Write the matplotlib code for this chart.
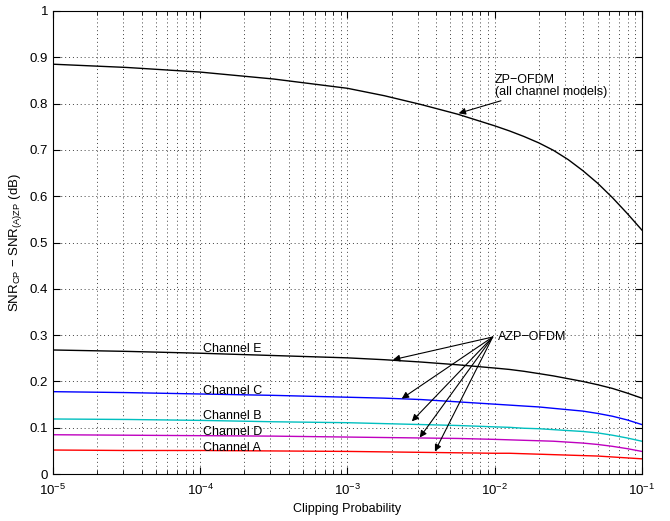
import numpy as np
import matplotlib
matplotlib.use('Agg')
import matplotlib.pyplot as plt

plt.rcParams['font.family'] = ['Liberation Sans', 'DejaVu Sans']
plt.rcParams['mathtext.fontset'] = 'custom'
plt.rcParams['mathtext.rm'] = 'Liberation Sans'
plt.rcParams['mathtext.it'] = 'Liberation Sans:italic'
plt.rcParams['mathtext.default'] = 'regular'

# clipping probability and SNR differences (dB)
clip_prob = [1e-5, 3.16e-5, 1e-4, 3.16e-4, 1e-3, 1.78e-3, 3.16e-3, 5.62e-3,
             1e-2, 1.26e-2, 1.58e-2, 2.0e-2, 2.51e-2, 3.16e-2, 3.98e-2,
             5.01e-2, 6.31e-2, 7.94e-2, 1e-1]
zp_ofdm = [0.885, 0.878, 0.868, 0.853, 0.833, 0.817, 0.798, 0.777,
           0.752, 0.741, 0.729, 0.715, 0.699, 0.679, 0.655,
           0.628, 0.597, 0.563, 0.527]
chan_e = [0.268, 0.265, 0.261, 0.256, 0.251, 0.247, 0.242, 0.236,
          0.229, 0.226, 0.222, 0.217, 0.212, 0.206, 0.200,
          0.193, 0.185, 0.175, 0.164]
chan_c = [0.178, 0.176, 0.173, 0.170, 0.166, 0.164, 0.161, 0.156,
          0.151, 0.149, 0.147, 0.145, 0.142, 0.139, 0.136,
          0.131, 0.125, 0.117, 0.107]
chan_b = [0.119, 0.118, 0.116, 0.113, 0.111, 0.109, 0.107, 0.105,
          0.102, 0.101, 0.099, 0.098, 0.096, 0.094, 0.092,
          0.089, 0.084, 0.078, 0.071]
chan_d = [0.085, 0.084, 0.083, 0.082, 0.080, 0.079, 0.078, 0.077,
          0.075, 0.074, 0.073, 0.072, 0.071, 0.069, 0.067,
          0.064, 0.060, 0.055, 0.049]
chan_a = [0.052, 0.051, 0.051, 0.050, 0.049, 0.048, 0.047, 0.046,
          0.045, 0.045, 0.044, 0.043, 0.042, 0.041, 0.040,
          0.039, 0.037, 0.035, 0.033]

fig = plt.figure(figsize=(6.7, 5.21), dpi=100)
ax = fig.add_axes([0.079, 0.090, 0.879, 0.889])

ax.semilogx(clip_prob, zp_ofdm, color='k', lw=1.0)
ax.semilogx(clip_prob, chan_e, color='k', lw=1.0)
ax.semilogx(clip_prob, chan_c, color='b', lw=1.0)
ax.semilogx(clip_prob, chan_b, color='c', lw=1.0)
ax.semilogx(clip_prob, chan_d, color='m', lw=1.0)
ax.semilogx(clip_prob, chan_a, color='r', lw=1.0)

ax.set_xlim(1e-5, 1e-1)
ax.set_ylim(0, 1)
ax.set_yticks(np.arange(0, 1.01, 0.1))
ax.set_yticklabels(['0', '0.1', '0.2', '0.3', '0.4', '0.5', '0.6', '0.7', '0.8', '0.9', '1'])

grid_ls = (0, (1, 3))
ax.grid(True, which='major', axis='both', linestyle=grid_ls, color='0.25', lw=0.7)
ax.grid(True, which='minor', axis='x', linestyle=grid_ls, color='0.25', lw=0.7)
ax.tick_params(which='both', direction='in', top=True, right=True, labelsize=9.5)
ax.tick_params(which='major', length=5)
ax.tick_params(which='minor', length=3)
ax.tick_params(axis='x', which='major', pad=6)

ax.set_xlabel('Clipping Probability', fontsize=9)
ax.set_ylabel(r'SNR$_{CP}$ $-$ SNR$_{(A)ZP}$ (dB)', fontsize=9.5)

# channel labels
lab_x = 1.05e-4
for txt, yv in [('Channel E', 0.27), ('Channel C', 0.18), ('Channel B', 0.125),
                ('Channel D', 0.09), ('Channel A', 0.057)]:
    ax.text(lab_x, yv, txt, fontsize=9, va='center', ha='left')

arrow = dict(arrowstyle='-|>', color='k', lw=0.8, mutation_scale=10, shrinkA=0, shrinkB=0)

ax.annotate('ZP\u2212OFDM\n(all channel models)', xy=(5.7e-3, 0.779), xytext=(1.0e-2, 0.838),
            fontsize=9, ha='left', va='center', arrowprops=arrow, linespacing=1.0)

azp_src = (9.7e-3, 0.296)
ax.text(1.05e-2, 0.296, 'AZP\u2212OFDM', fontsize=9, ha='left', va='center')
for tip in [(2.04e-3, 0.247), (2.34e-3, 0.163), (2.74e-3, 0.114), (3.1e-3, 0.079), (3.93e-3, 0.049)]:
    ax.annotate('', xy=tip, xytext=azp_src, arrowprops=arrow)

fig.savefig('out.png', dpi=100)
